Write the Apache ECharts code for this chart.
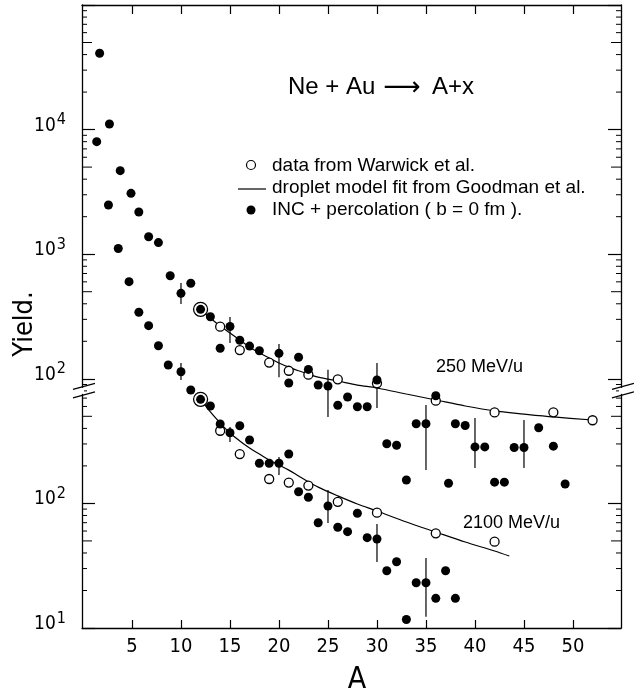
<!DOCTYPE html>
<html><head><meta charset="utf-8">
<script src="https://cdn.jsdelivr.net/npm/echarts@6/dist/echarts.min.js"></script>
<style>html,body{margin:0;padding:0;background:#fff}#c{width:634px;height:696px}</style>
</head><body><div id="c"></div>
<script>
// ---- data (values in the plotted log units of the continuous axis) ----
// INC + percolation, 250 MeV/u group
const incA250 = [1.7, 2.7, 3.8, 4.9, 5.7, 6.7, 7.7, 8.9, 10, 11, 12, 13, 14, 15, 16, 17, 18, 20, 21, 22, 23, 24, 25, 26, 27, 28, 29, 30, 31, 32, 33, 34, 35, 36, 37.3, 38, 39, 40, 41, 42, 43, 44, 45, 46.5, 48, 49.2];
const incY250 = [4.1e5, 1.11e5, 4.68e4, 3.08e4, 2.18e4, 1.38e4, 1.24e4, 6720, 4850, 5840, 3610, 3150, 1760, 2630, 2040, 1830, 1680, 1600, 925, 1490, 1190, 891, 875, 613, 714, 597, 597, 978, 301, 293, 154, 436, 436, 731, 145, 436, 422, 284, 284, 148, 148, 281, 281, 405, 288, 143];
// INC + percolation, 2100 MeV/u group
const incA2100 = [1.4, 2.6, 3.6, 4.7, 5.7, 6.7, 7.7, 8.7, 10, 11, 12, 13, 14, 15, 16, 17, 18, 19, 20, 21, 22, 23, 24, 25, 26, 27, 28, 29, 30, 31, 32, 33, 34, 35, 36, 37, 38];
const incY2100 = [8.0e4, 2.48e4, 1.11e4, 6020, 3420, 2670, 1840, 1290, 1140, 813, 684, 605, 434, 369, 420, 323, 210, 210, 210, 249, 124, 112, 70, 95.3, 64.3, 59.3, 83.3, 53.1, 51.8, 28.8, 34.0, 11.7, 23.1, 23.1, 17.3, 28.8, 17.3];
// data from Warwick et al.
const warA250 = [12, 14, 16, 19, 21, 23, 26, 30, 36, 42, 48, 52];
const warY250 = [3610, 2620, 1700, 1350, 1160, 1080, 991, 920, 667, 537, 538, 465];
const warA2100 = [12, 14, 16, 19, 21, 23, 26, 30, 36, 42];
const warY2100 = [684, 383, 249, 157, 147, 139, 103, 84.2, 57.5, 49.3];
// droplet model fit from Goodman et al.
const fitA250 = [12, 13, 14, 15, 16, 17, 18, 19, 20, 21, 22, 23, 24, 26, 28, 30, 33, 36, 39, 42, 45, 48, 52];
const fitY250 = [3620, 3080, 2650, 2330, 2050, 1800, 1610, 1470, 1340, 1240, 1160, 1090, 1030, 960, 891, 844, 755, 676, 605, 552, 521, 494, 467];
const fitA2100 = [12, 13, 14, 15, 16, 17, 18, 19, 20, 21, 22, 23, 24, 26, 28, 30, 33, 36, 39, 42, 43.5];
const fitY2100 = [688, 542, 442, 367, 317, 278, 249, 223, 203, 185, 166, 149, 135, 115, 98.9, 86.9, 70.9, 58.9, 49.0, 41.5, 37.8];
// error bars
const errA250 = [10, 15, 20, 25, 30, 35, 40, 45];
const errLo250 = [3980, 1940, 1030, 493, 583, 185, 192, 192];
const errHi250 = [5870, 3130, 1900, 1180, 1340, 617, 484, 467];
const errA2100 = [10, 15, 20, 25, 30, 35];
const errLo2100 = [977, 311, 169, 69.7, 33.9, 12.3];
const errHi2100 = [1340, 410, 236, 128, 68.4, 36.5];
// ticks
const xTicks = [5, 10, 15, 20, 25, 30, 35, 40, 45, 50];
const yTickPowers = [1, 2, 3, 4, 5, 6];
const yTickLabelExp = [1, 2, 2, 3, 4, null];   // labels as printed (upper panel shifted)
const minorMantissas = [2, 3, 4, 5, 6, 7, 8, 9];
const minorDecades = [10, 100, 1000, 10000, 100000];
const BREAK_VALUE = 800;

const X_MIN = -0.1, X_MAX = 54.9;
const INK = '#000';

function hasFont(name) {
  const c = document.createElement('canvas').getContext('2d');
  const s = 'abcdefghijklmnopqrstuvwxyz0123456789ABCDEFGHIJ';
  return ['monospace', 'serif'].some(fb => {
    c.font = '20px ' + fb; const w0 = c.measureText(s).width;
    c.font = '20px "' + name + '",' + fb; return Math.abs(c.measureText(s).width - w0) > 0.5;
  });
}
const narrowName = ['Liberation Sans Narrow', 'Arial Narrow', 'DejaVu Sans Condensed', 'Liberation Sans'].find(hasFont) || 'sans-serif';
const NARROW = '"' + narrowName + '",sans-serif';
const SANS = '"Liberation Sans","DejaVu Sans",sans-serif';

const zip = (a, b) => a.map((v, i) => [v, b[i]]);
const errData = (a, lo, hi) => a.map((v, i) => [v, lo[i], hi[i]]);
const minorData = [];
minorDecades.forEach(d => minorMantissas.forEach(m => minorData.push([X_MIN, m * d, m === 5 ? 10 : 5])));

const chart = echarts.init(document.getElementById('c'), null, {renderer: 'canvas'});

const axisLine = {show: true, onZero: false, lineStyle: {color: INK, width: 1.3}};
const filled = {type: 'scatter', symbol: 'circle', symbolSize: 9, itemStyle: {color: INK, opacity: 1}, z: 5};
const open = {type: 'scatter', symbol: 'circle', itemStyle: {color: '#fff', borderColor: INK, borderWidth: 1.3, opacity: 1}, z: 4,
  symbolSize: v => (v[0] === 12 ? 14 : 9)};
const fitLine = {type: 'line', showSymbol: false, symbol: 'none', smooth: 0.3, lineStyle: {color: INK, width: 1.2}, z: 2};
const errRender = (params, api) => {
  const p1 = api.coord([api.value(0), api.value(1)]);
  const p2 = api.coord([api.value(0), api.value(2)]);
  return {type: 'line', shape: {x1: p1[0], y1: p1[1], x2: p2[0], y2: p2[1]}, style: {stroke: INK, lineWidth: 1.2}};
};

chart.setOption({
  animation: false,
  backgroundColor: '#fff',
  grid: {left: 82, right: 13, top: 5, bottom: 68, containLabel: false, outerBoundsMode: 'none'},
  xAxis: [
    {type: 'value', min: X_MIN, max: X_MAX, position: 'bottom', axisLine,
     axisTick: {show: true, inside: true, length: 8, customValues: xTicks, lineStyle: {color: INK, width: 1.2}},
     axisLabel: {customValues: xTicks, fontSize: 20, fontFamily: NARROW, color: INK, margin: 9},
     splitLine: {show: false},
     name: 'A', nameLocation: 'middle', nameGap: 37,
     nameTextStyle: {fontSize: 30, fontFamily: NARROW, color: INK, padding: [0, 0, 0, 11]}},
    {type: 'value', min: X_MIN, max: X_MAX, position: 'top', axisLine,
     axisTick: {show: true, inside: true, length: 9, customValues: xTicks, lineStyle: {color: INK, width: 1.2}},
     axisLabel: {show: false}, splitLine: {show: false}}
  ],
  yAxis: [
    {type: 'log', logBase: 10, min: 10, max: 1e6, position: 'left', axisLine,
     axisTick: {show: true, inside: true, length: 13, lineStyle: {color: INK, width: 1.2}},
     axisLabel: {margin: 16, padding: [0, 0, 11, 0],
       formatter: v => {
         const i = yTickPowers.indexOf(Math.round(Math.log10(v)));
         if (i < 0 || yTickLabelExp[i] === null) return '';
         return '{b|10}{s|' + yTickLabelExp[i] + '}';
       },
       rich: {
         b: {fontSize: 19, fontFamily: NARROW, color: INK, verticalAlign: 'bottom', lineHeight: 22},
         s: {fontSize: 16, fontFamily: NARROW, color: INK, verticalAlign: 'bottom', lineHeight: 22, padding: [0, 0, 7, 1]}
       }},
     splitLine: {show: false}},
    {type: 'log', logBase: 10, min: 10, max: 1e6, position: 'right', axisLine,
     axisTick: {show: true, inside: true, length: 13, lineStyle: {color: INK, width: 1.2}},
     axisLabel: {show: false}, splitLine: {show: false}}
  ],
  series: [
    {type: 'custom', name: 'minorTicks', data: minorData, encode: {x: 0, y: 1}, silent: true, z: 1,
     renderItem: (params, api) => {
       const v = api.value(1), len = api.value(2);
       const l = api.coord([X_MIN, v]);
       const r = api.coord([X_MAX, v]);
       return {type: 'group', children: [
         {type: 'line', shape: {x1: l[0], y1: l[1], x2: l[0] + len, y2: l[1]}, style: {stroke: INK, lineWidth: 1}},
         {type: 'line', shape: {x1: r[0] - len, y1: r[1], x2: r[0], y2: r[1]}, style: {stroke: INK, lineWidth: 1}}
       ]};
     }},
    Object.assign({name: 'droplet model fit from Goodman et al.', data: zip(fitA250, fitY250)}, fitLine),
    Object.assign({name: 'droplet model fit from Goodman et al.', data: zip(fitA2100, fitY2100)}, fitLine),
    {type: 'custom', name: 'err250', data: errData(errA250, errLo250, errHi250), encode: {x: 0, y: [1, 2]}, renderItem: errRender, z: 3},
    {type: 'custom', name: 'err2100', data: errData(errA2100, errLo2100, errHi2100), encode: {x: 0, y: [1, 2]}, renderItem: errRender, z: 3},
    Object.assign({name: 'data from Warwick et al.', data: zip(warA250, warY250)}, open),
    Object.assign({name: 'data from Warwick et al.', data: zip(warA2100, warY2100)}, open),
    Object.assign({name: 'INC + percolation', data: zip(incA250, incY250)}, filled),
    Object.assign({name: 'INC + percolation', data: zip(incA2100, incY2100)}, filled)
  ]
});

// decorations (text, legend, axis break) positioned after layout
const xl = chart.convertToPixel({xAxisIndex: 0}, X_MIN);
const xr = chart.convertToPixel({xAxisIndex: 0}, X_MAX);
const by = chart.convertToPixel({yAxisIndex: 0}, BREAK_VALUE);
const txt = (x, y, text, size, font, align) => ({type: 'text', x, y, z: 10,
  style: {text, fontSize: size, fontFamily: font || SANS, fill: INK, align: align || 'left', verticalAlign: 'middle'}});
const slash = (cx, cy) => ({type: 'line', z: 11, shape: {x1: cx - 9, y1: cy + 2.5, x2: cx + 13, y2: cy - 3.5}, style: {stroke: INK, lineWidth: 1.2}});
const gap = (cx) => ({type: 'rect', z: 10, shape: {x: cx - 2, y: by - 3, width: 4, height: 6}, style: {fill: '#fff'}});

chart.setOption({graphic: [
  txt(288, 87, 'Ne + Au', 24),
  txt(402, 88, '\u27F6', 26, '"DejaVu Sans",sans-serif', 'center'),
  txt(432, 87, 'A+x', 24),
  {type: 'circle', z: 10, shape: {cx: 251, cy: 165, r: 4.5}, style: {fill: '#fff', stroke: INK, lineWidth: 1.2}},
  txt(272, 166, 'data from Warwick et al.', 19),
  {type: 'line', z: 10, shape: {x1: 238, y1: 189, x2: 266, y2: 189}, style: {stroke: INK, lineWidth: 1.2}},
  txt(272, 188, 'droplet model fit from Goodman et al.', 19),
  {type: 'circle', z: 10, shape: {cx: 251, cy: 210, r: 4.5}, style: {fill: INK}},
  txt(272, 210, 'INC + percolation ( b = 0 fm ).', 19),
  txt(436, 367, '250 MeV/u', 18),
  txt(463, 523, '2100 MeV/u', 18),
  {type: 'text', x: 25, y: 324, rotation: Math.PI / 2, z: 10,
   style: {text: 'Yield.', fontSize: 27, fontFamily: NARROW, fill: INK, align: 'center', verticalAlign: 'middle'}},
  gap(xl), gap(xr),
  slash(xl, by - 4), slash(xl, by + 4.5),
  slash(xr, by - 4), slash(xr, by + 4.5)
]});
</script></body></html>
